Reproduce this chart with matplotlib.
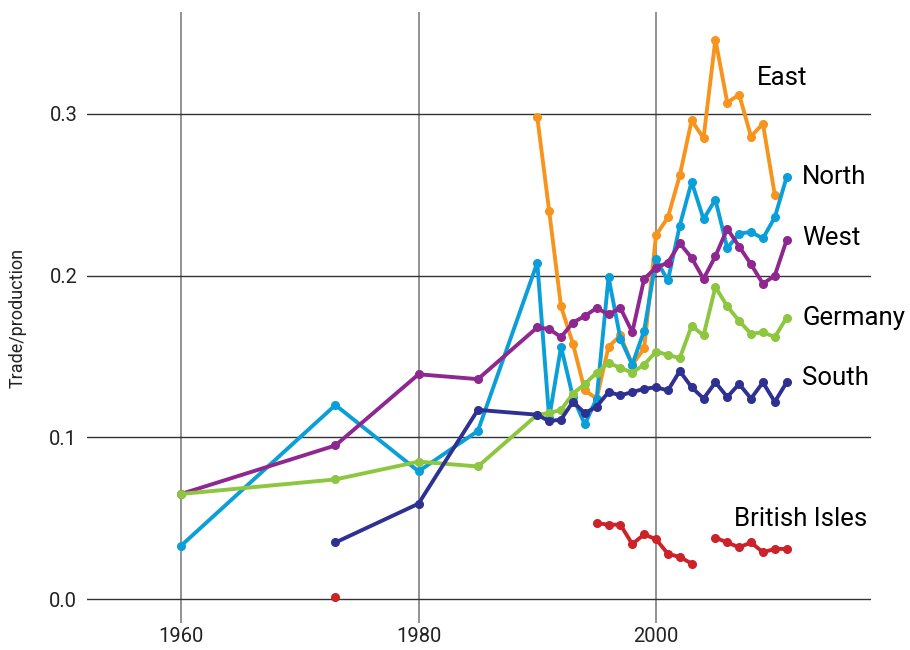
import matplotlib
matplotlib.use("Agg")
import matplotlib.pyplot as plt
import numpy as np

# years 1990..2011 used by the annual series
years_annual = list(range(1990, 2012))

east_years = list(range(1990, 2011))
east = [0.298, 0.240, 0.181, 0.158, 0.129, 0.124, 0.156, 0.163, 0.145, 0.155,
        0.225, 0.236, 0.262, 0.296, 0.285, 0.346, 0.307, 0.312, 0.286, 0.294, 0.250]

north_years = [1960, 1973, 1980, 1985] + years_annual
north = [0.033, 0.120, 0.079, 0.104,
         0.208, 0.112, 0.156, 0.125, 0.108, 0.124, 0.199, 0.161, 0.145, 0.166,
         0.210, 0.197, 0.231, 0.258, 0.235, 0.247, 0.217, 0.226, 0.227, 0.223,
         0.236, 0.261]

west_years = [1960, 1973, 1980, 1985] + years_annual
west = [0.065, 0.095, 0.139, 0.136,
        0.168, 0.167, 0.162, 0.171, 0.175, 0.180, 0.176, 0.180, 0.165, 0.198,
        0.205, 0.208, 0.220, 0.211, 0.198, 0.212, 0.229, 0.218, 0.207, 0.195,
        0.200, 0.222]

germany_years = [1960, 1973, 1980, 1985] + years_annual
germany = [0.065, 0.074, 0.085, 0.082,
           0.114, 0.115, 0.117, 0.127, 0.133, 0.140, 0.146, 0.143, 0.140, 0.145,
           0.153, 0.151, 0.149, 0.169, 0.163, 0.193, 0.181, 0.172, 0.164, 0.165,
           0.162, 0.174]

south_years = [1973, 1980, 1985] + years_annual
south = [0.035, 0.059, 0.117,
         0.114, 0.110, 0.111, 0.122, 0.115, 0.119, 0.128, 0.126, 0.128, 0.130,
         0.131, 0.129, 0.141, 0.131, 0.124, 0.134, 0.125, 0.133, 0.124, 0.134,
         0.122, 0.134]

# nan marks the gaps (no data) in the British Isles series
british_years = [1973, 1974] + list(range(1995, 2012))
british = [0.001, np.nan,
           0.047, 0.046, 0.046, 0.034, 0.040, 0.037, 0.028, 0.026, 0.022,
           np.nan, 0.038, 0.035, 0.032, 0.035, 0.029, 0.031, 0.031]

series = [
    ("East", east_years, east, "#F7941D", (2008.5, 0.322)),
    ("North", north_years, north, "#0A9FD8", (2012.3, 0.261)),
    ("West", west_years, west, "#8E278F", (2012.3, 0.223)),
    ("Germany", germany_years, germany, "#8DC63F", (2012.3, 0.174)),
    ("South", south_years, south, "#2E3192", (2012.3, 0.137)),
    ("British Isles", british_years, british, "#CC2229", (2006.6, 0.0495)),
]

plt.rcParams['font.family'] = ['Roboto', 'DejaVu Sans']

fig = plt.figure(figsize=(9.1, 6.5), dpi=100)
ax = fig.add_axes([0.0956, 0.0415, 0.8615, 0.94])

for name, xs, ys, col, pos in series:
    ax.plot(xs, ys, color=col, linewidth=2.8, marker='o', markersize=5.5,
            solid_joinstyle='round', zorder=3)
    ax.text(pos[0], pos[1], name, fontsize=18.5, color='black',
            ha='left', va='center', zorder=4)

ax.set_xlim(1952.08, 2018.1)
ax.set_ylim(-0.0148, 0.363)
ax.set_xticks([1960, 1980, 2000])
ax.set_yticks([0.0, 0.1, 0.2, 0.3])
ax.set_yticklabels(["0.0", "0.1", "0.2", "0.3"])

for s in ax.spines.values():
    s.set_visible(False)
ax.tick_params(axis='x', length=0, labelsize=14.5, colors='#222222', pad=3)
ax.tick_params(axis='y', length=0, labelsize=14.5, colors='#222222', pad=7)
ax.xaxis.grid(True, color='#8a8a8a', linewidth=1.3)
ax.yaxis.grid(True, color='#333333', linewidth=1.0)
ax.set_axisbelow(True)

ax.set_ylabel("Trade/production", fontsize=13, color='#222222')
ax.yaxis.set_label_coords(-0.077, 0.5)

fig.savefig("out.png", dpi=100)
